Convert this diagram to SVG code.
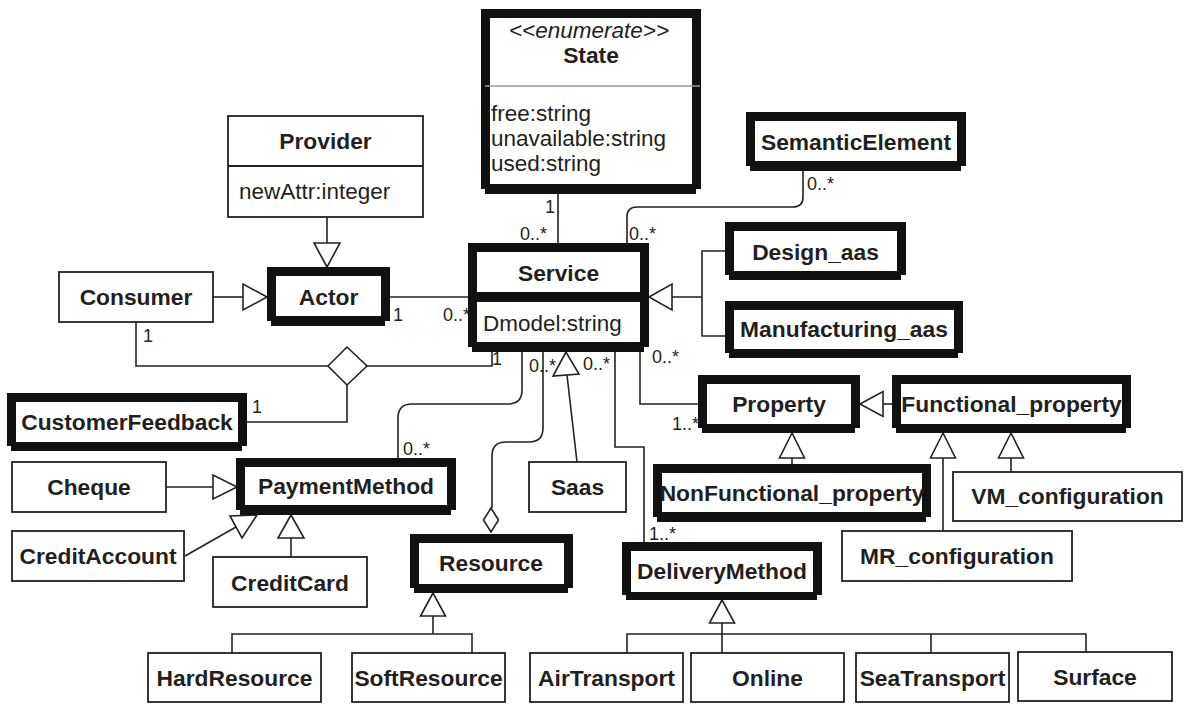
<svg xmlns="http://www.w3.org/2000/svg" width="1184" height="704" viewBox="0 0 1184 704">
<style>
.k{fill:#111}
.w{fill:#fff}
.t{fill:#fff;stroke:#222;stroke-width:1.8}
.ln{fill:none;stroke:#222;stroke-width:1.6}
.tri{fill:#fff;stroke:#222;stroke-width:1.6}
.b{font-family:"Liberation Sans",Arial,sans-serif;font-weight:bold;font-size:22.8px;fill:#231f20;text-anchor:middle}
.r{font-family:"Liberation Sans",Arial,sans-serif;font-size:22.5px;fill:#231f20}
.i{font-family:"Liberation Sans",Arial,sans-serif;font-style:italic;font-size:22.5px;fill:#231f20;text-anchor:middle}
.m{font-family:"Liberation Sans",Arial,sans-serif;font-size:18px;fill:#231f20}
</style>
<rect width="1184" height="704" fill="#fff"/>
<g id="connectors">
<path class="ln" d="M558,194 V243"/>
<path class="ln" d="M803,171 V197 Q803,207 793,207 H637 Q627,207 627,217 V243"/>
<path class="ln" d="M327,217 V243"/>
<path class="ln" d="M213,297 H243"/>
<path class="ln" d="M390,297 H468"/>
<path class="ln" d="M672,297 H702 M725,251 H702 V336 H725"/>
<path class="ln" d="M136,322 V366 H328 M367,366 H492 V352"/>
<path class="ln" d="M347,385 V422 H247"/>
<path class="ln" d="M522,352 V390 Q522,404 508,404 H412 Q398,404 398,418 V458"/>
<path class="ln" d="M397,476 V483"/>
<path class="ln" d="M543,352 V428 Q543,442 529,442 H506 Q492,442 492,456 V508"/>
<path class="ln" d="M567,375 L577,462"/>
<path class="ln" d="M615,352 V447 H644 V542"/>
<path class="ln" d="M640,352 V404 H698"/>
<path class="ln" d="M883,404 H892"/>
<path class="ln" d="M792,458 V464"/>
<path class="ln" d="M943,458 V531 M1011,458 V472"/>
<path class="ln" d="M166,487 H213"/>
<path class="ln" d="M185,556 L236,527"/>
<path class="ln" d="M291,538 V557"/>
<path class="ln" d="M433,616 V634 M232,653 V634 H472 V653"/>
<path class="ln" d="M722,623 V653 M627,653 V634 H1086 V652 M931,634 V653"/>
<polygon class="tri" points="267,297 243,284 243,310"/>
<polygon class="tri" points="327,267 314,243 340,243"/>
<polygon class="tri" points="649,297 672,284 672,310"/>
<polygon class="tri" points="860,404 883,391.5 883,416.5"/>
<polygon class="tri" points="792,433 779.5,458 804.5,458"/>
<polygon class="tri" points="943,433 930.5,458 955.5,458"/>
<polygon class="tri" points="1011,433 998.5,458 1023.5,458"/>
<polygon class="tri" points="722,600 709.5,623 734.5,623"/>
<polygon class="tri" points="433,593 420.5,616 445.5,616"/>
<polygon class="tri" points="237,487 213,475 213,499"/>
<polygon class="tri" points="291,515 278,538 304,538"/>
<polygon class="tri" points="257,515 230,516 242,538"/>
<polygon class="tri" points="566,352 553,376 579,374"/>
<polygon class="tri" points="328,366 347,347 367,366 347,385"/>
<polygon class="tri" points="491,508 498.5,520 491,532 483.5,520"/>
<text class="m" x="393" y="321">1</text>
<text class="m" x="443" y="321">0..*</text>
<text class="m" x="545" y="213">1</text>
<text class="m" x="520" y="240">0..*</text>
<text class="m" x="807" y="190">0..*</text>
<text class="m" x="629" y="240">0..*</text>
<text class="m" x="143" y="342">1</text>
<text class="m" x="252" y="413">1</text>
<text class="m" x="492" y="365">1</text>
<text class="m" x="529" y="372">0..*</text>
<text class="m" x="583" y="370">0..*</text>
<text class="m" x="652" y="363">0..*</text>
<text class="m" x="672" y="430">1..*</text>
<text class="m" x="403" y="455">0..*</text>
<text class="m" x="649" y="540">1..*</text>
</g>
<g id="State">
<rect class="k" x="481" y="9" width="220" height="180"/><rect class="k" x="485" y="14" width="211" height="180"/>
<rect class="w" x="490" y="18" width="202" height="166"/>
<line x1="485" y1="86" x2="700" y2="86" stroke="#999" stroke-width="1.6"/>
<text class="i" x="589" y="37.5">&lt;&lt;enumerate&gt;&gt;</text>
<text class="b" x="591" y="63">State</text>
<text class="r" x="491" y="121">free:string</text>
<text class="r" x="491" y="146">unavailable:string</text>
<text class="r" x="491" y="171">used:string</text>
</g>
<g id="Provider">
<rect class="t" x="228" y="116" width="195" height="101"/>
<line x1="228" y1="166" x2="423" y2="166" stroke="#222" stroke-width="1.8"/>
<text class="b" x="325.5" y="149">Provider</text>
<text class="r" x="239" y="199">newAttr:integer</text>
</g>
<g id="SemanticElement">
<rect class="k" x="746" y="112" width="220" height="54"/><rect class="k" x="750" y="117" width="211" height="54"/>
<rect class="w" x="755" y="121" width="202" height="40"/>
<text class="b" x="856" y="150">SemanticElement</text>
</g>
<g id="Consumer">
<rect class="t" x="59" y="272" width="154" height="50"/>
<text class="b" x="136" y="305">Consumer</text>
</g>
<g id="Actor">
<rect class="k" x="267" y="267" width="123" height="54"/><rect class="k" x="271" y="272" width="114" height="54"/>
<rect class="w" x="276" y="276" width="105" height="40"/>
<text class="b" x="328.5" y="305">Actor</text>
</g>
<g id="Service">
<rect class="k" x="468" y="243" width="181" height="104"/><rect class="k" x="472" y="248" width="172" height="104"/>
<rect class="w" x="477" y="252" width="163" height="40"/>
<rect class="w" x="477" y="302" width="163" height="40"/>
<text class="b" x="558.5" y="281">Service</text>
<text class="r" x="483" y="331">Dmodel:string</text>
</g>
<g id="Design_aas">
<rect class="k" x="725" y="222" width="181" height="53"/><rect class="k" x="729" y="227" width="172" height="53"/>
<rect class="w" x="734" y="231" width="163" height="40"/>
<text class="b" x="815.5" y="260">Design_aas</text>
</g>
<g id="Manufacturing_aas">
<rect class="k" x="725" y="301" width="238" height="52"/><rect class="k" x="729" y="306" width="229" height="52"/>
<rect class="w" x="734" y="310" width="220" height="39"/>
<text class="b" x="844" y="337">Manufacturing_aas</text>
</g>
<g id="CustomerFeedback">
<rect class="k" x="7" y="393" width="240" height="53"/><rect class="k" x="11" y="398" width="231" height="53"/>
<rect class="w" x="16" y="402" width="222" height="40"/>
<text class="b" x="127" y="430">CustomerFeedback</text>
</g>
<g id="Property">
<rect class="k" x="698" y="375" width="162" height="53"/><rect class="k" x="702" y="380" width="153" height="53"/>
<rect class="w" x="707" y="384" width="144" height="40"/>
<text class="b" x="779" y="412">Property</text>
</g>
<g id="Functional_property">
<rect class="k" x="892" y="375" width="239" height="53"/><rect class="k" x="896" y="380" width="230" height="53"/>
<rect class="w" x="901" y="384" width="221" height="40"/>
<text class="b" x="1011.5" y="412">Functional_property</text>
</g>
<g id="Cheque">
<rect class="t" x="12" y="462" width="154" height="50"/>
<text class="b" x="89" y="495">Cheque</text>
</g>
<g id="PaymentMethod">
<rect class="k" x="236" y="458" width="220" height="52"/><rect class="k" x="240" y="463" width="211" height="52"/>
<rect class="w" x="245" y="467" width="202" height="38"/>
<text class="b" x="346" y="494">PaymentMethod</text>
</g>
<g id="Saas">
<rect class="t" x="529" y="462" width="97" height="50"/>
<text class="b" x="577.5" y="495">Saas</text>
</g>
<g id="NonFunctional_property">
<rect class="k" x="653" y="464" width="278" height="53"/><rect class="k" x="657" y="469" width="269" height="53"/>
<rect class="w" x="662" y="473" width="260" height="39"/>
<text class="b" x="792" y="501">NonFunctional_property</text>
</g>
<g id="VM_configuration">
<rect class="t" x="953" y="472" width="229" height="49"/>
<text class="b" x="1067.5" y="504">VM_configuration</text>
</g>
<g id="CreditAccount">
<rect class="t" x="12" y="531" width="172" height="50"/>
<text class="b" x="98" y="564">CreditAccount</text>
</g>
<g id="MR_configuration">
<rect class="t" x="842" y="531" width="230" height="50"/>
<text class="b" x="957" y="564">MR_configuration</text>
</g>
<g id="CreditCard">
<rect class="t" x="213" y="557" width="154" height="50"/>
<text class="b" x="290" y="591">CreditCard</text>
</g>
<g id="Resource">
<rect class="k" x="410" y="534" width="163" height="54"/><rect class="k" x="414" y="539" width="154" height="54"/>
<rect class="w" x="419" y="543" width="145" height="41"/>
<text class="b" x="491" y="571">Resource</text>
</g>
<g id="DeliveryMethod">
<rect class="k" x="622" y="542" width="200" height="53"/><rect class="k" x="626" y="547" width="191" height="53"/>
<rect class="w" x="631" y="551" width="182" height="41"/>
<text class="b" x="722" y="579">DeliveryMethod</text>
</g>
<g id="HardResource">
<rect class="t" x="148" y="653" width="173" height="49"/>
<text class="b" x="234.5" y="686">HardResource</text>
</g>
<g id="SoftResource">
<rect class="t" x="352" y="653" width="153" height="49"/>
<text class="b" x="428.5" y="686">SoftResource</text>
</g>
<g id="AirTransport">
<rect class="t" x="530" y="653" width="153" height="49"/>
<text class="b" x="606.5" y="686">AirTransport</text>
</g>
<g id="Online">
<rect class="t" x="691" y="653" width="153" height="49"/>
<text class="b" x="767.5" y="686">Online</text>
</g>
<g id="SeaTransport">
<rect class="t" x="856" y="653" width="153" height="49"/>
<text class="b" x="932.5" y="686">SeaTransport</text>
</g>
<g id="Surface">
<rect class="t" x="1018" y="652" width="154" height="49"/>
<text class="b" x="1095" y="685">Surface</text>
</g>
</svg>
